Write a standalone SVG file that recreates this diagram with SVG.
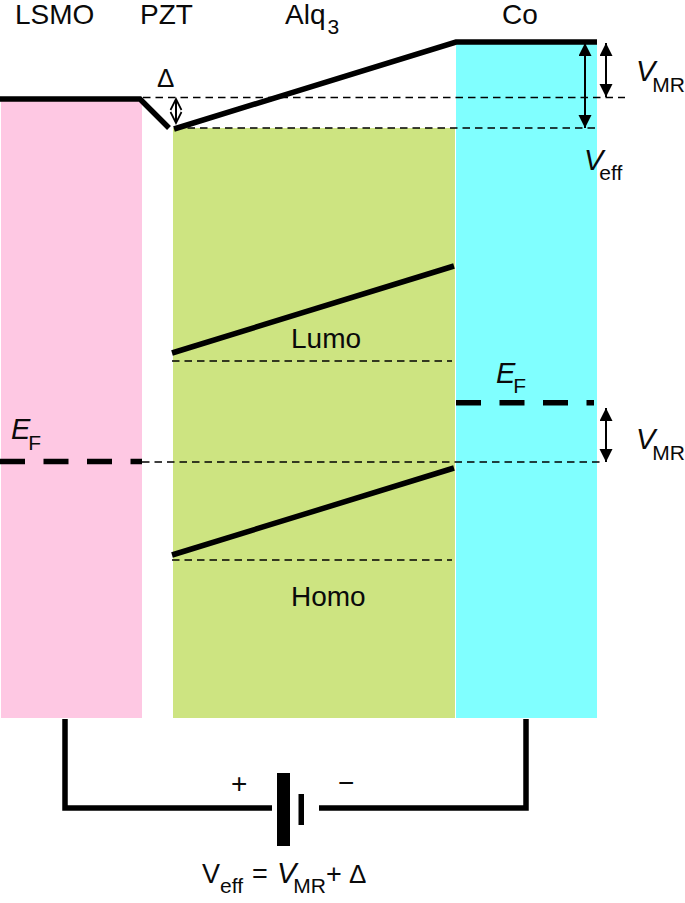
<svg xmlns="http://www.w3.org/2000/svg" width="685" height="903" viewBox="0 0 685 903">
<defs>
<marker id="ah" markerUnits="userSpaceOnUse" markerWidth="14" markerHeight="14" refX="13" refY="6.500" orient="auto-start-reverse"><path d="M0,0L13,6.500L0,13Z" fill="#000"/></marker>
<marker id="ahs" markerUnits="userSpaceOnUse" markerWidth="14" markerHeight="14" refX="12" refY="7" orient="auto-start-reverse"><path d="M1,1.500L12,7L1,12.500" fill="none" stroke="#000" stroke-width="1.700"/></marker>
</defs>
<style>
text{font-family:"Liberation Sans",Arial,sans-serif;fill:#0a0a0a}
.l{font-size:28px}
.i{font-style:italic;font-size:29px}
.s{font-size:21px}
.thick{fill:none;stroke:#000;stroke-width:5.500}
.fd{fill:none;stroke:#000;stroke-width:1.600;stroke-dasharray:7.500 5}
.bd{fill:none;stroke:#000;stroke-width:5.500;stroke-dasharray:25 18.500}
.ar{fill:none;stroke:#000;stroke-width:2}
</style>
<rect width="685" height="903" fill="#fff"/>
<g id="lsmo"><rect x="1" y="99" width="141" height="619" fill="#fec8e3"/><text class="l" x="15" y="24">LSMO</text></g>
<g id="alq3"><rect x="173" y="128" width="282" height="590" fill="#cde481"/><text class="l" x="285" y="24">Alq<tspan class="s" dx="2" dy="10">3</tspan></text>
<text class="l" x="291" y="348">Lumo</text><text class="l" x="291" y="606">Homo</text></g>
<g id="co"><rect x="456" y="41" width="141" height="677" fill="#80ffff"/><text class="l" x="502" y="24">Co</text></g>
<g id="pzt"><text class="l" x="140" y="24">PZT</text></g>
<g id="connectors">
<path class="fd" d="M143,97.500H625"/>
<path class="fd" d="M175,128H597"/>
<path class="fd" d="M172,361H452"/>
<path class="fd" d="M172,560H452"/>
<path class="fd" d="M142,462H604"/>
<path class="thick" d="M0,99H140L169,128"/>
<path class="thick" d="M174,129L456,42H597"/>
<path class="thick" d="M172,353L454,266"/>
<path class="thick" d="M172,555L454,468"/>
<path class="bd" d="M0,461.500H142"/>
<path class="bd" d="M456,402.800H594"/>
<path class="ar" marker-start="url(#ah)" marker-end="url(#ah)" d="M585,43V128"/>
<path class="ar" marker-start="url(#ah)" marker-end="url(#ah)" d="M606,43V97"/>
<path class="ar" marker-start="url(#ah)" marker-end="url(#ah)" d="M606,408V462"/>
<path class="ar" marker-start="url(#ahs)" marker-end="url(#ahs)" d="M176,99V123"/>
<path class="thick" d="M65,719V808H272"/>
<path class="thick" d="M526,719V808H319"/>
</g>
<g id="battery"><rect x="277" y="773" width="13" height="73" fill="#000"/><rect x="298.500" y="794" width="5.500" height="31" fill="#000"/>
<text class="l" x="231" y="793">+</text><text class="l" x="338" y="792">−</text></g>
<g id="labels">
<text x="157" y="87" style="font-size:26px">Δ</text>
<text x="636" y="81"><tspan class="i">V</tspan><tspan class="s" dx="-3" dy="11">MR</tspan></text>
<text x="584" y="170"><tspan class="i">V</tspan><tspan class="s" dx="-4" dy="10">eff</tspan></text>
<text x="496" y="383"><tspan class="i">E</tspan><tspan class="s" dx="-2" dy="10">F</tspan></text>
<text x="636" y="449"><tspan class="i">V</tspan><tspan class="s" dx="-3" dy="11">MR</tspan></text>
<text x="11" y="439"><tspan class="i">E</tspan><tspan class="s" dx="-2" dy="11">F</tspan></text>
<text x="202" y="883" style="font-size:27px">V<tspan class="s" dy="10">eff</tspan><tspan dx="9" dy="-10">=</tspan></text>
<text x="277" y="883"><tspan class="i">V</tspan><tspan class="s" dx="-3" dy="10">MR</tspan></text>
<text x="326" y="883" style="font-size:27px">+</text>
<text x="349" y="883" style="font-size:26px">Δ</text>
</g>
</svg>
